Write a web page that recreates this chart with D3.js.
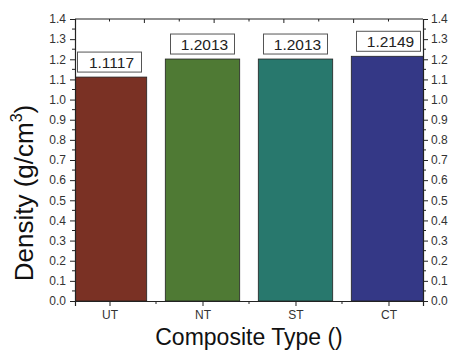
<!DOCTYPE html>
<html>
<head>
<meta charset="utf-8">
<script src="https://cdn.jsdelivr.net/npm/d3@7"></script>
<style>
  html, body { margin: 0; padding: 0; background: #fff; overflow: hidden; }
  text { font-family: "Liberation Sans", Arial, sans-serif; }
</style>
</head>
<body>
<svg id="chart" width="449" height="352"></svg>
<script>
const categories = ["UT", "NT", "ST", "CT"];
const densities = [1.1117, 1.2013, 1.2013, 1.2149];
const valueLabels = ["1.1117", "1.2013", "1.2013", "1.2149"];
const barColors = ["#7a3124", "#4f7a34", "#28786d", "#343886"];
const yTickValues = [0.0, 0.1, 0.2, 0.3, 0.4, 0.5, 0.6, 0.7, 0.8, 0.9, 1.0, 1.1, 1.2, 1.3, 1.4];

const W = 449, H = 352;
const m = { left: 75, right: 26, top: 19, bottom: 51 };
const x0 = m.left, x1 = W - m.right, y0 = m.top, y1 = H - m.bottom;

const svg = d3.select("#chart");

const x = d3.scalePoint().domain(categories).range([x0, x1]).padding(0.371);
const step = x.step();
const barW = step * 0.8;
const y = d3.scaleLinear().domain([0, 1.4]).range([y1, y0]);

svg.append("defs").append("clipPath").attr("id", "plotclip")
  .append("rect").attr("x", x0).attr("y", y0).attr("width", x1 - x0).attr("height", y1 - y0);

const plot = svg.append("g").attr("clip-path", "url(#plotclip)");

// bars
plot.selectAll("rect.bar").data(categories).join("rect")
  .attr("class", "bar")
  .attr("x", d => x(d) - barW / 2)
  .attr("width", barW)
  .attr("y", (d, i) => y(densities[i]))
  .attr("height", (d, i) => y(0) - y(densities[i]))
  .attr("fill", (d, i) => barColors[i])
  .attr("stroke", "#222")
  .attr("stroke-width", 0.8);

// value label boxes
const boxW = 64, boxH = 20;
const lbl = plot.selectAll("g.lbl").data(categories).join("g").attr("class", "lbl");
lbl.append("rect")
  .attr("x", d => x(d) - boxW / 2)
  .attr("y", (d, i) => y(densities[i]) - 5 - boxH)
  .attr("width", boxW).attr("height", boxH)
  .attr("fill", "#fff").attr("stroke", "#555").attr("stroke-width", 1);
lbl.append("text")
  .attr("x", d => x(d) + 2)
  .attr("y", (d, i) => y(densities[i]) - 5 - boxH / 2)
  .attr("dy", "0.36em")
  .attr("text-anchor", "middle")
  .attr("font-size", 15.5)
  .attr("fill", "#222")
  .text((d, i) => valueLabels[i]);

// axes
const axisColor = "#222";
const labelColor = "#333";

const yLeft = d3.axisLeft(y).tickValues(yTickValues).tickFormat(d3.format(".1f")).tickSize(5).tickPadding(4);
const gL = svg.append("g").attr("transform", `translate(${x0},0)`).call(yLeft);
const yRight = d3.axisRight(y).tickValues(yTickValues).tickFormat(d3.format(".1f")).tickSize(5).tickPadding(3);
const gR = svg.append("g").attr("transform", `translate(${x1},0)`).call(yRight);
const xBottom = d3.axisBottom(x).tickSize(5).tickPadding(4);
const gB = svg.append("g").attr("transform", `translate(0,${y1})`).call(xBottom);

[gL, gR, gB].forEach(g => {
  g.select(".domain").attr("stroke", axisColor).attr("stroke-width", 1.2);
  g.selectAll(".tick line").attr("stroke", axisColor);
  g.selectAll(".tick text").attr("fill", labelColor).attr("font-size", 12)
    .attr("font-family", "'Liberation Sans', Arial, sans-serif");
});

// minor y ticks
const minorY = yTickValues.slice(0, -1).map(v => v + 0.05);
svg.append("g").selectAll("line").data(minorY).join("line")
  .attr("x1", x0 - 3).attr("x2", x0).attr("y1", d => y(d)).attr("y2", d => y(d))
  .attr("stroke", axisColor);
svg.append("g").selectAll("line").data(minorY).join("line")
  .attr("x1", x1).attr("x2", x1 + 3).attr("y1", d => y(d)).attr("y2", d => y(d))
  .attr("stroke", axisColor);

// minor x ticks (between categories)
const minorX = categories.slice(0, -1).map((c, i) => (x(c) + x(categories[i + 1])) / 2);
svg.append("g").selectAll("line").data(minorX).join("line")
  .attr("x1", d => d).attr("x2", d => d).attr("y1", y1).attr("y2", y1 + 3)
  .attr("stroke", axisColor);

// top axis line and ticks
svg.append("line").attr("x1", x0).attr("x2", x1).attr("y1", y0).attr("y2", y0)
  .attr("stroke", axisColor).attr("stroke-width", 1.2);
const xa = x(categories[0]), xb = x(categories[categories.length - 1]);
const topTicks = d3.range(9).map(k => ({ pos: xa + k * (xb - xa) / 8, major: k % 2 === 1 }));
svg.append("g").selectAll("line").data(topTicks).join("line")
  .attr("x1", d => d.pos).attr("x2", d => d.pos)
  .attr("y1", y0).attr("y2", d => y0 + (d.major ? 4 : 2.5))
  .attr("stroke", axisColor);

// axis titles
const yt = svg.append("text")
  .attr("transform", `translate(33,193) rotate(-90)`)
  .attr("text-anchor", "middle")
  .attr("font-size", 26)
  .attr("fill", "#111");
yt.append("tspan").text("Density (g/cm");
yt.append("tspan").attr("font-size", 16).attr("dy", -11).text("3");
yt.append("tspan").attr("dy", 11).text(")");

svg.append("text")
  .attr("x", 249).attr("y", 345)
  .attr("text-anchor", "middle")
  .attr("font-size", 23)
  .attr("fill", "#111")
  .text("Composite Type ()");
</script>
</body>
</html>
